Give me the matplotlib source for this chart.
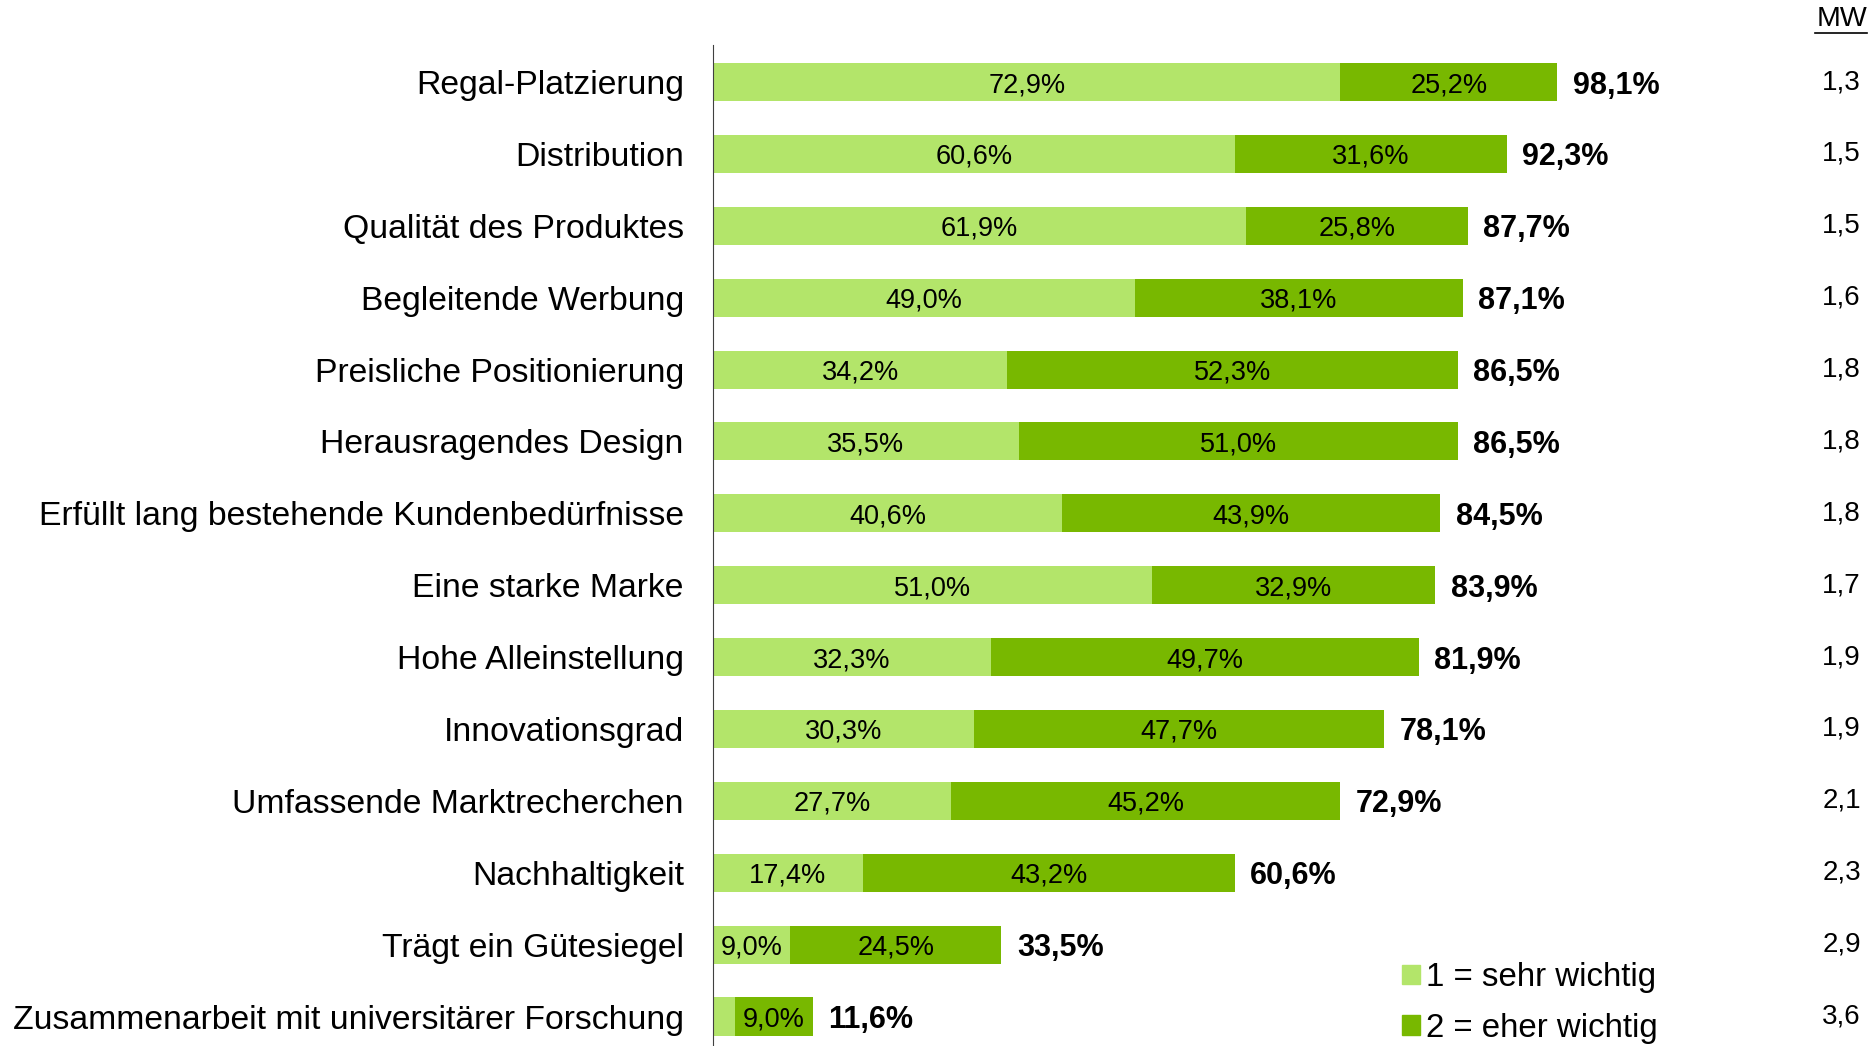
import matplotlib.pyplot as plt
from matplotlib.patches import Patch

plt.rcParams['font.family'] = ['Liberation Sans', 'DejaVu Sans']

# Daten aus der Abbildung
kategorien = [
    "Regal-Platzierung",
    "Distribution",
    "Qualität des Produktes",
    "Begleitende Werbung",
    "Preisliche Positionierung",
    "Herausragendes Design",
    "Erfüllt lang bestehende Kundenbedürfnisse",
    "Eine starke Marke",
    "Hohe Alleinstellung",
    "Innovationsgrad",
    "Umfassende Marktrecherchen",
    "Nachhaltigkeit",
    "Trägt ein Gütesiegel",
    "Zusammenarbeit mit universitärer Forschung",
]
sehr_wichtig = [72.9, 60.6, 61.9, 49.0, 34.2, 35.5, 40.6, 51.0, 32.3, 30.3, 27.7, 17.4, 9.0, 2.6]
eher_wichtig = [25.2, 31.6, 25.8, 38.1, 52.3, 51.0, 43.9, 32.9, 49.7, 47.7, 45.2, 43.2, 24.5, 9.0]
gesamt = [98.1, 92.3, 87.7, 87.1, 86.5, 86.5, 84.5, 83.9, 81.9, 78.1, 72.9, 60.6, 33.5, 11.6]
mw = [1.3, 1.5, 1.5, 1.6, 1.8, 1.8, 1.8, 1.7, 1.9, 1.9, 2.1, 2.3, 2.9, 3.6]

farbe_hell = '#B3E56A'
farbe_dunkel = '#78B800'


def fmt(v):
    return f"{v:.1f}%".replace('.', ',')


fig = plt.figure(figsize=(18.75, 10.46), dpi=100)
W, H = 1875, 1046
x0, y_top = 713, 45
ax = fig.add_axes([x0 / W, 0, (W - x0) / W, (H - y_top) / H])

y = list(range(len(kategorien)))
ax.barh(y, sehr_wichtig, height=0.53, color=farbe_hell)
ax.barh(y, eher_wichtig, left=sehr_wichtig, height=0.53, color=farbe_dunkel)

# x-Position der MW-Spalte in Achsenanteilen
mw_x = (1861 - x0) / (W - x0)
for i in y:
    if sehr_wichtig[i] >= 5:
        ax.text(sehr_wichtig[i] / 2, i, fmt(sehr_wichtig[i]), ha='center',
                va='center_baseline', fontsize=19.5)
    ax.text(sehr_wichtig[i] + eher_wichtig[i] / 2, i, fmt(eher_wichtig[i]),
            ha='center', va='center_baseline', fontsize=19.5)
    ax.text(sehr_wichtig[i] + eher_wichtig[i] + 1.8, i, fmt(gesamt[i]), ha='left',
            va='center_baseline', fontsize=22, fontweight='bold')
    # Mittelwert-Spalte
    ax.text(mw_x, i, f"{mw[i]:.1f}".replace('.', ','), transform=ax.get_yaxis_transform(),
            ha='right', va='center', fontsize=20)

ax.set_yticks(y)
ax.set_yticklabels(kategorien, fontsize=24.3)
ax.tick_params(axis='y', length=0, pad=21)
ax.set_xticks([])
ax.set_xlim(0, 135)
ax.set_ylim(13.41, -0.515)
for s in ['top', 'right', 'bottom']:
    ax.spines[s].set_visible(False)
ax.spines['left'].set_color('#404040')

# Kopfzeile "MW"
fig.text(1867 / W, 1 - 19 / H, "MW", ha='right', va='center', fontsize=20.5)
fig.add_artist(plt.Line2D([1815 / W, 1867 / W], [1 - 33 / H, 1 - 33 / H],
                          color='black', lw=1.2))

fig.legend(handles=[Patch(color=farbe_hell), Patch(color=farbe_dunkel)],
           labels=["1 = sehr wichtig", "2 = eher wichtig"],
           loc='upper left', bbox_to_anchor=(1402 / W, 1 - 962 / H),
           frameon=False, fontsize=23.8, handlelength=0.53, handleheight=0.53,
           handletextpad=0.2, labelspacing=0.6, borderpad=0, borderaxespad=0)

fig.savefig('out.png', dpi=100)
